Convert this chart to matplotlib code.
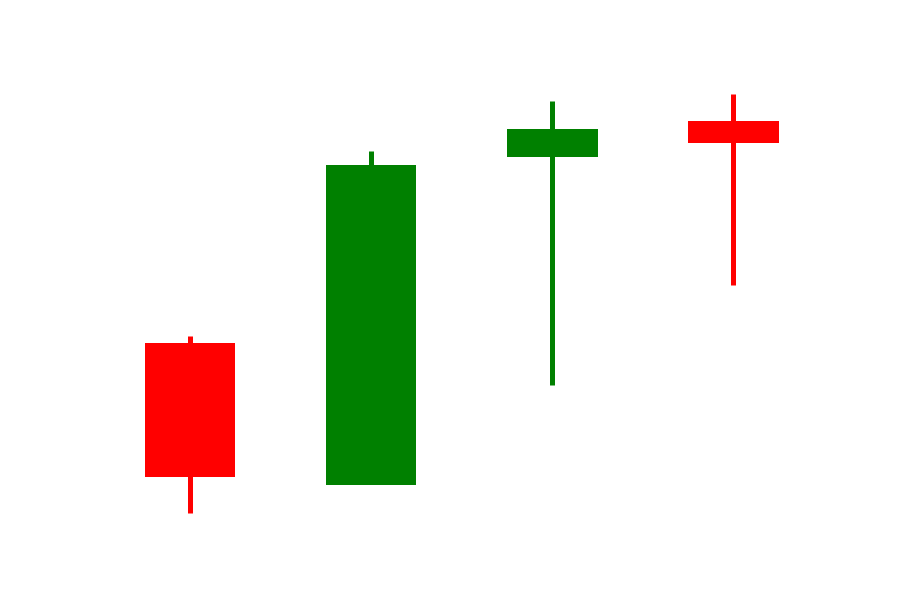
import numpy as np
import matplotlib.pyplot as plt

# OHLC data
opens = [25.8, 11.6, 44.4, 47.9]
highs = [26.5, 45.0, 50.0, 50.7]
lows = [8.8, 11.8, 21.6, 31.6]
closes = [12.4, 43.6, 47.1, 45.8]

x = np.arange(len(opens))

fig = plt.figure(figsize=(9, 6), dpi=100)
ax = fig.add_axes([0, 0, 1, 1])

for i in range(len(x)):
    color = 'green' if closes[i] >= opens[i] else 'red'
    ax.vlines(x[i], lows[i], highs[i], color=color, linewidth=3.6)
    bottom = min(opens[i], closes[i])
    height = abs(closes[i] - opens[i])
    ax.bar(x[i], height, bottom=bottom, width=0.5, color=color)

ax.set_xlim(-1.05, 3.92)
ax.set_ylim(0.05, 60.05)
ax.axis('off')

plt.savefig('out.png')
